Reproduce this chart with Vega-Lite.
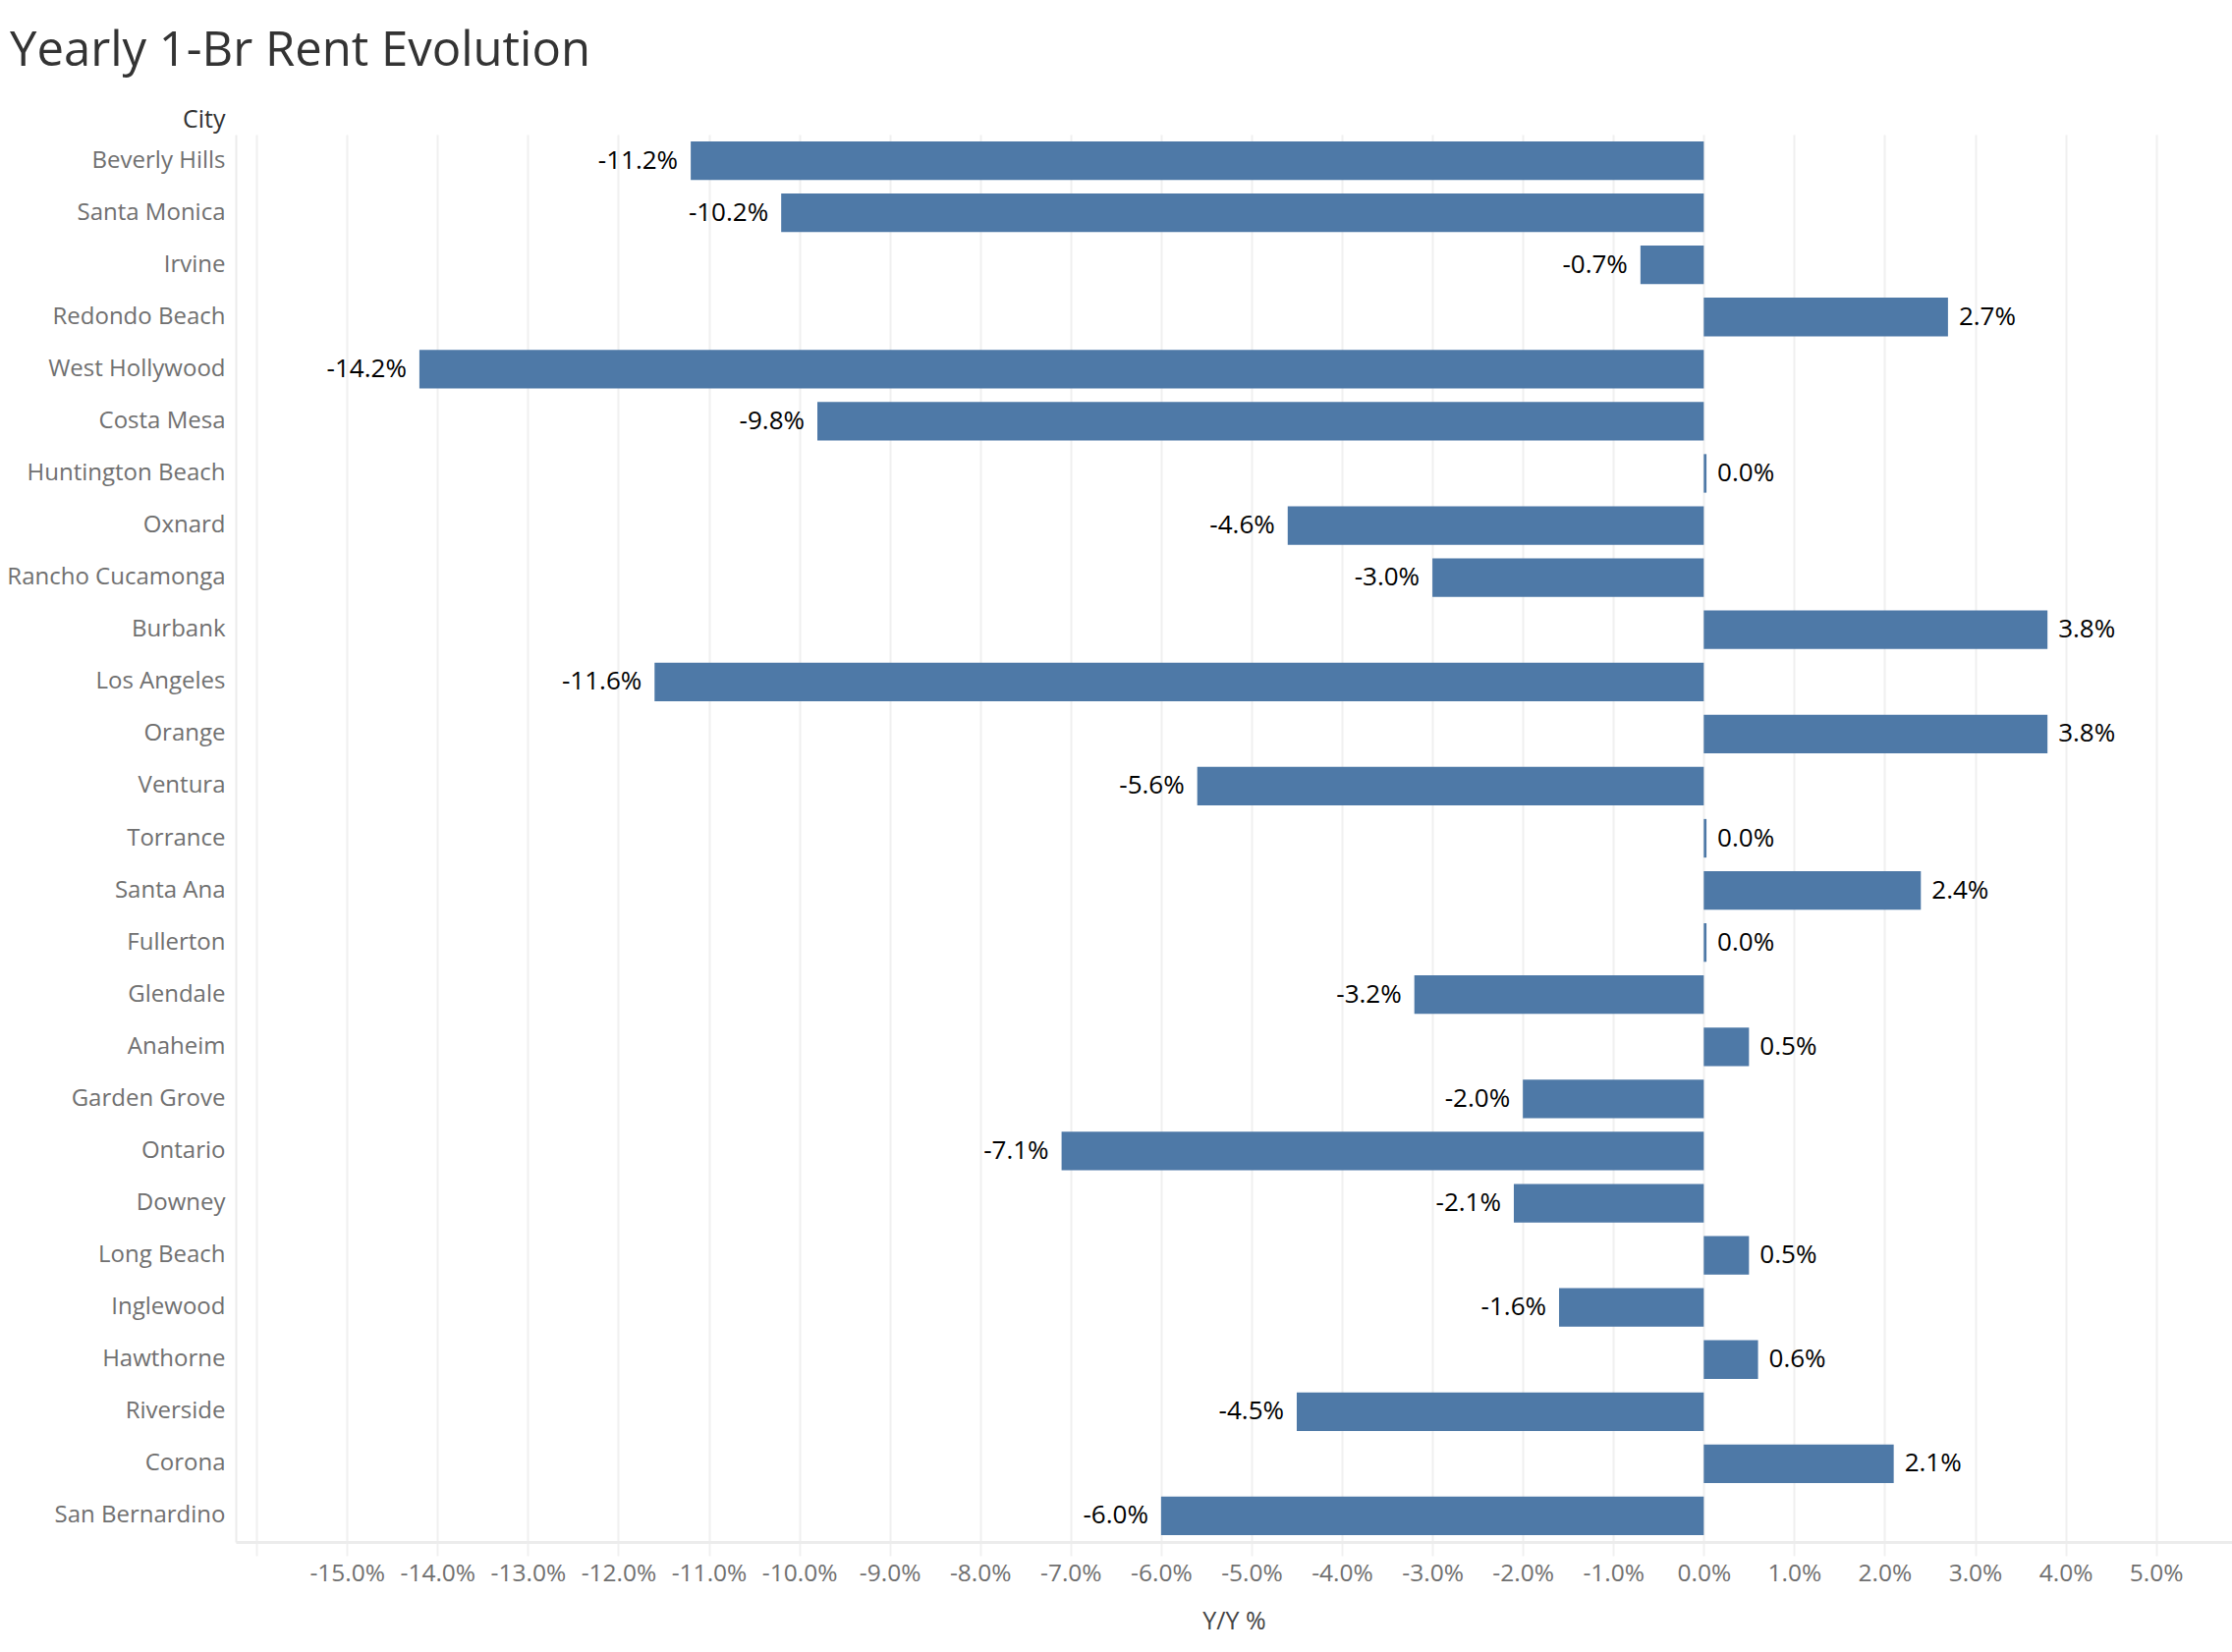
{
  "$schema": "https://vega.github.io/schema/vega-lite/v6.json",
  "width": 2032,
  "height": 1433,
  "autosize": {"type": "none"},
  "padding": {"left": 240, "top": 137, "right": 0, "bottom": 112},
  "background": "white",
  "title": {
    "text": "Yearly 1-Br Rent Evolution",
    "anchor": "start",
    "frame": "group",
    "fontSize": 49,
    "font": "Open Sans",
    "fontWeight": "normal",
    "color": "#333333",
    "dx": -230,
    "dy": 7,
    "baseline": "alphabetic",
    "offset": 0
  },
  "config": {
    "view": {"stroke": null},
    "font": "Open Sans",
    "locale": {
      "number": {
        "decimal": ".",
        "thousands": ",",
        "grouping": [3],
        "currency": ["$", ""],
        "minus": "-",
        "percent": "%"
      }
    }
  },
  "data": {
    "values": [
      {"city": "Beverly Hills", "value": -0.112},
      {"city": "Santa Monica", "value": -0.102},
      {"city": "Irvine", "value": -0.007},
      {"city": "Redondo Beach", "value": 0.027},
      {"city": "West Hollywood", "value": -0.142},
      {"city": "Costa Mesa", "value": -0.098},
      {"city": "Huntington Beach", "value": 0.0003},
      {"city": "Oxnard", "value": -0.046},
      {"city": "Rancho Cucamonga", "value": -0.030},
      {"city": "Burbank", "value": 0.038},
      {"city": "Los Angeles", "value": -0.116},
      {"city": "Orange", "value": 0.038},
      {"city": "Ventura", "value": -0.056},
      {"city": "Torrance", "value": 0.0003},
      {"city": "Santa Ana", "value": 0.024},
      {"city": "Fullerton", "value": 0.0003},
      {"city": "Glendale", "value": -0.032},
      {"city": "Anaheim", "value": 0.005},
      {"city": "Garden Grove", "value": -0.020},
      {"city": "Ontario", "value": -0.071},
      {"city": "Downey", "value": -0.021},
      {"city": "Long Beach", "value": 0.005},
      {"city": "Inglewood", "value": -0.016},
      {"city": "Hawthorne", "value": 0.006},
      {"city": "Riverside", "value": -0.045},
      {"city": "Corona", "value": 0.021},
      {"city": "San Bernardino", "value": -0.060}
    ]
  },
  "encoding": {
    "y": {
      "field": "city",
      "type": "nominal",
      "sort": null,
      "scale": {"paddingInner": 0.26, "paddingOuter": 0.13},
      "axis": {
        "title": "City",
        "titleAngle": 0,
        "titleAlign": "right",
        "titleBaseline": "alphabetic",
        "titleX": -11,
        "titleY": -8,
        "titleFontSize": 25,
        "titleFontWeight": "normal",
        "titleColor": "#333333",
        "labelFontSize": 24,
        "labelLimit": 500,
        "labelColor": "#707070",
        "labelPadding": 11,
        "ticks": false,
        "grid": false,
        "domain": true,
        "domainColor": "#ececec",
        "domainWidth": 2
      }
    }
  },
  "layer": [
    {
      "mark": {"type": "bar", "color": "#4e79a7"},
      "encoding": {
        "x": {
          "field": "value",
          "type": "quantitative",
          "scale": {"domain": [-0.1623, 0.0584], "nice": false, "zero": false},
          "axis": {
            "title": "Y/Y %",
            "titleFontSize": 25,
            "titleFontWeight": "normal",
            "titleColor": "#444444",
            "titlePadding": 25,
            "values": [-0.16, -0.15, -0.14, -0.13, -0.12, -0.11, -0.10, -0.09, -0.08, -0.07, -0.06, -0.05, -0.04, -0.03, -0.02, -0.01, 0, 0.01, 0.02, 0.03, 0.04, 0.05],
            "format": ".1%",
            "labelExpr": "datum.value < -0.155 ? '' : datum.label",
            "labelFontSize": 24.5,
            "labelColor": "#707070",
            "labelPadding": 6,
            "grid": true,
            "gridColor": "#f0f0f0",
            "gridWidth": 2,
            "ticks": true,
            "tickColor": "#f0f0f0",
            "tickWidth": 2,
            "tickSize": 14,
            "domain": true,
            "domainColor": "#ececec",
            "domainWidth": 3
          }
        }
      }
    },
    {
      "mark": {"type": "rule", "color": "#bdbdbd", "strokeDash": [4, 4], "strokeWidth": 1.5},
      "encoding": {"x": {"datum": 0}}
    },
    {
      "transform": [{"filter": "datum.value < 0"}],
      "mark": {"type": "text", "align": "right", "dx": -13, "fontSize": 26, "color": "#000000"},
      "encoding": {
        "x": {"field": "value", "type": "quantitative"},
        "text": {"field": "value", "type": "quantitative", "format": ".1%"}
      }
    },
    {
      "transform": [{"filter": "datum.value >= 0"}],
      "mark": {"type": "text", "align": "left", "dx": 11, "fontSize": 26, "color": "#000000"},
      "encoding": {
        "x": {"field": "value", "type": "quantitative"},
        "text": {"field": "value", "type": "quantitative", "format": ".1%"}
      }
    }
  ]
}
